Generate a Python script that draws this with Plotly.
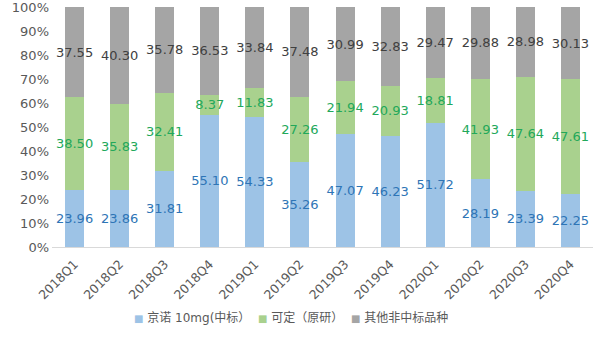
import plotly.graph_objects as go

quarters = ["2018Q1", "2018Q2", "2018Q3", "2018Q4", "2019Q1", "2019Q2",
            "2019Q3", "2019Q4", "2020Q1", "2020Q2", "2020Q3", "2020Q4"]
jingnuo = [23.96, 23.86, 31.81, 55.10, 54.33, 35.26, 47.07, 46.23, 51.72, 28.19, 23.39, 22.25]
keding = [38.50, 35.83, 32.41, 8.37, 11.83, 27.26, 21.94, 20.93, 18.81, 41.93, 47.64, 47.61]
others = [37.55, 40.30, 35.78, 36.53, 33.84, 37.48, 30.99, 32.83, 29.47, 29.88, 28.98, 30.13]

series = [
    ("京诺 10mg(中标）", jingnuo, "#9dc3e6", "#2e75b6"),
    ("可定（原研）", keding, "#a9d18e", "#22a85a"),
    ("其他非中标品种", others, "#a5a5a5", "#404040"),
]

FONT = "DejaVu Sans, Noto Sans CJK SC, sans-serif"

fig = go.Figure()
for name, vals, color, tcolor in series:
    fig.add_trace(go.Bar(
        x=quarters, y=vals, name=name,
        marker=dict(color=color, line=dict(width=0)),
        text=[f"{v:.2f}" for v in vals],
        textposition="inside", insidetextanchor="middle",
        textangle=0, constraintext="none",
        textfont=dict(color=tcolor, size=13, family=FONT),
        width=0.42,
        showlegend=False,
    ))

# compact legend row: small coloured squares followed by series names
legend_text = "  ".join(
    f'<span style="color:{color};font-size:10px">■</span> {name}'
    for name, _, color, _ in series
)
fig.add_annotation(
    text=legend_text, xref="paper", yref="paper",
    x=0.148, y=-0.292, xanchor="left", yanchor="middle",
    showarrow=False, font=dict(size=12, color="#595959", family=FONT),
)

fig.update_layout(
    barmode="stack",
    width=605, height=340,
    margin=dict(l=52, r=12, t=7, b=93, autoexpand=False),
    paper_bgcolor="white", plot_bgcolor="white",
    font=dict(family=FONT, color="#595959", size=12),
    showlegend=False,
    uniformtext=dict(mode=False),
)
fig.update_xaxes(tickangle=-45, showline=True, linecolor="#d9d9d9", linewidth=1,
                 ticks="", ticklabelstandoff=4, automargin=False,
                 tickfont=dict(size=12.5, color="#595959"))
fig.update_yaxes(range=[0, 100], dtick=10, ticksuffix="%", showgrid=False,
                 zeroline=False, showline=False, ticks="", automargin=False,
                 ticklabeloverflow="allow", ticklabelstandoff=2,
                 tickfont=dict(size=13, color="#595959"))

fig.write_html("out.html")
